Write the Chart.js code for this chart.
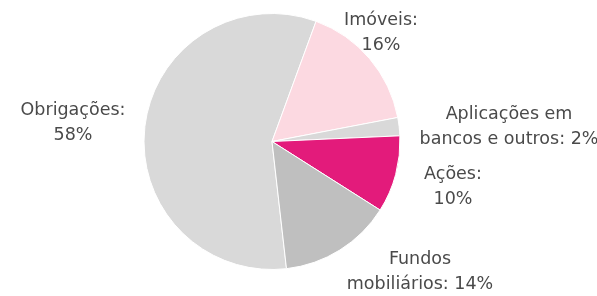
<!DOCTYPE html>
<html>
<head>
<meta charset="utf-8">
<script src="https://cdn.jsdelivr.net/npm/chart.js@4"></script>
<style>
  html, body { margin: 0; padding: 0; background: #fff; }
  #wrap { width: 597px; height: 296px; position: relative; }
</style>
</head>
<body>
<div id="wrap"><canvas id="grafico"></canvas></div>
<script>
// dados
const categorias = ["Obrigações", "Imóveis", "Aplicações em bancos e outros", "Ações", "Fundos mobiliários"];
const valores = [57.4, 16.4, 2.3, 9.7, 14.2];
const percentuais = ["58%", "16%", "2%", "10%", "14%"];
const cores = ["#d9d9d9", "#fcd9e1", "#d9d9d9", "#e31b7b", "#bfbfbf"];

// rótulos em duas linhas, como no original
const linhas = [
  [categorias[0] + ":", percentuais[0]],
  [categorias[1] + ":", percentuais[1]],
  ["Aplicações em", "bancos e outros: " + percentuais[2]],
  [categorias[3] + ":", percentuais[3]],
  ["Fundos", "mobiliários: " + percentuais[4]],
];
// posição do centro de cada rótulo em relação ao centro da pizza
const deslocRotulos = [[-199, -19], [109, -109], [237, -15], [181, 45], [148, 130]];

const rotulosPlugin = {
  id: "rotulos",
  afterDraw(chart) {
    const ctx = chart.ctx;
    const arcos = chart.getDatasetMeta(0).data;
    ctx.save();
    ctx.font = "17.5px 'DejaVu Sans'";
    ctx.fillStyle = "#4a4a4a";
    ctx.textAlign = "center";
    ctx.textBaseline = "middle";
    arcos.forEach((arco, i) => {
      const cx = arco.x + deslocRotulos[i][0];
      const cy = arco.y + deslocRotulos[i][1];
      const lh = 25;
      linhas[i].forEach((txt, j) => {
        ctx.fillText(txt, cx, cy + (j - (linhas[i].length - 1) / 2) * lh);
      });
    });
    ctx.restore();
  },
};

new Chart(document.getElementById("grafico"), {
  type: "pie",
  data: {
    labels: categorias,
    datasets: [
      {
        data: valores,
        backgroundColor: cores,
        borderColor: "#ffffff",
        borderWidth: 1,
      },
    ],
  },
  options: {
    responsive: true,
    maintainAspectRatio: false,
    animation: false,
    rotation: 173.5,
    layout: { padding: { left: 143, right: 196, top: 13, bottom: 26 } },
    plugins: {
      legend: { display: false },
      tooltip: { enabled: false },
    },
  },
  plugins: [rotulosPlugin],
});
</script>
</body>
</html>
